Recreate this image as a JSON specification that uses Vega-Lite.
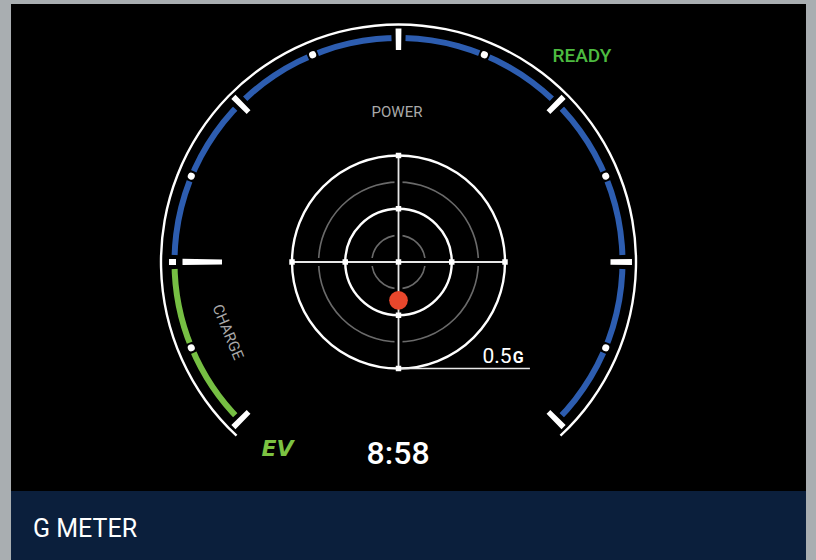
{
  "$schema": "https://vega.github.io/schema/vega-lite/v6.json",
  "width": 816,
  "height": 560,
  "autosize": {"type": "none"},
  "padding": 0,
  "background": "#a9aeb1",
  "config": {"view": {"stroke": null}},
  "datasets": {
    "frame": [{"part": "screen"}],
    "segments": [
      {"mode": "charge", "from": -135, "to": -90},
      {"mode": "power", "from": -90, "to": 135}
    ],
    "ticks": [
      {"angle": -135, "kind": "major"},
      {"angle": -90, "kind": "zero"},
      {"angle": -45, "kind": "major"},
      {"angle": 0, "kind": "major"},
      {"angle": 45, "kind": "major"},
      {"angle": 90, "kind": "major"},
      {"angle": 135, "kind": "major"}
    ],
    "dots": [
      {"angle": -112.5}, {"angle": -67.5}, {"angle": -22.5},
      {"angle": 22.5}, {"angle": 67.5}, {"angle": 112.5}
    ],
    "rings": [
      {"g": 0.125, "kind": "minor"},
      {"g": 0.25, "kind": "major"},
      {"g": 0.375, "kind": "minor"},
      {"g": 0.5, "kind": "major"}
    ],
    "crosshair": [
      {"axis": "lateral", "from": -0.5, "to": 0.5},
      {"axis": "longitudinal", "from": -0.5, "to": 0.5}
    ],
    "grid": [
      {"gx": 0, "gy": 0},
      {"gx": 0.25, "gy": 0}, {"gx": -0.25, "gy": 0},
      {"gx": 0, "gy": 0.25}, {"gx": 0, "gy": -0.25},
      {"gx": 0.5, "gy": 0}, {"gx": -0.5, "gy": 0},
      {"gx": 0, "gy": 0.5}, {"gx": 0, "gy": -0.5}
    ],
    "reading": [{"lateral": 0, "longitudinal": -0.18}],
    "labels": [
      {"label": "POWER", "role": "caption", "gx": -0.007, "gy": 0.704},
      {"label": "CHARGE", "role": "caption-arc", "gx": -0.8005, "gy": -0.3286},
      {"label": "READY", "role": "status", "gx": 0.8615, "gy": 0.9403},
      {"label": "EV", "role": "mode", "gx": -0.568, "gy": -0.911},
      {"label": "8:58", "role": "clock", "gx": -0.002, "gy": -0.948},
      {"label": "G METER", "role": "title", "gx": -1.716, "gy": -1.2897},
      {"label": "0.5", "role": "scale-value", "gx": 0.531, "gy": -0.4756},
      {"label": "G", "role": "scale-unit", "gx": 0.536, "gy": -0.4756}
    ]
  },
  "layer": [
    {
      "data": {"name": "frame"},
      "mark": {"type": "rect", "color": "#000000"},
      "encoding": {
        "x": {"datum": -1.8192, "type": "quantitative", "scale": {"domain": [-1.8709, 1.9601], "nice": false, "zero": false}, "axis": null},
        "x2": {"datum": 1.9131},
        "y": {"datum": 1.2113, "type": "quantitative", "scale": {"domain": [-1.3991, 1.23], "nice": false, "zero": false}, "axis": null},
        "y2": {"datum": -1.0751}
      }
    },
    {
      "data": {"name": "frame"},
      "mark": {"type": "rect", "color": "#0b1f3c"},
      "encoding": {
        "x": {"datum": -1.8192, "type": "quantitative", "axis": null},
        "x2": {"datum": 1.9131},
        "y": {"datum": -1.0751, "type": "quantitative", "axis": null},
        "y2": {"datum": -1.3991}
      }
    },
    {
      "data": {"name": "frame"},
      "mark": {"type": "arc", "color": "#ffffff", "thetaOffset": -0.035, "theta2Offset": 0.035},
      "encoding": {
        "x": {"datum": 0, "type": "quantitative", "axis": null},
        "y": {"datum": 0, "type": "quantitative", "axis": null},
        "theta": {"datum": -135, "type": "quantitative", "scale": {"type": "linear", "domain": [-180, 180], "range": [-3.14159265, 3.14159265], "nice": false, "zero": false}},
        "theta2": {"datum": 135},
        "radius": {"datum": 1.1207, "type": "quantitative", "scale": {"type": "linear", "domain": [0, 1], "range": [0, 213], "nice": false, "zero": true}},
        "radius2": {"datum": 1.1094}
      }
    },
    {
      "data": {"name": "segments"},
      "mark": {"type": "arc"},
      "encoding": {
        "x": {"datum": 0, "type": "quantitative", "axis": null},
        "y": {"datum": 0, "type": "quantitative", "axis": null},
        "theta": {"field": "from", "type": "quantitative", "stack": null},
        "theta2": {"field": "to"},
        "radius": {"datum": 1.0657, "type": "quantitative"},
        "radius2": {"datum": 1.0376},
        "color": {"field": "mode", "type": "nominal", "scale": {"domain": ["charge", "power"], "range": ["#76bf43", "#2d5db0"]}, "legend": null}
      }
    },
    {
      "data": {"name": "ticks"},
      "mark": {"type": "arc", "color": "#000000", "thetaOffset": -0.0314, "theta2Offset": 0.0314},
      "encoding": {
        "x": {"datum": 0, "type": "quantitative", "axis": null},
        "y": {"datum": 0, "type": "quantitative", "axis": null},
        "theta": {"field": "angle", "type": "quantitative", "stack": null},
        "theta2": {"field": "angle"},
        "radius": {"datum": 1.0775, "type": "quantitative"},
        "radius2": {"datum": 1.0258}
      }
    },
    {
      "data": {"name": "dots"},
      "mark": {"type": "arc", "color": "#000000", "thetaOffset": -0.024, "theta2Offset": 0.024},
      "encoding": {
        "x": {"datum": 0, "type": "quantitative", "axis": null},
        "y": {"datum": 0, "type": "quantitative", "axis": null},
        "theta": {"field": "angle", "type": "quantitative", "stack": null},
        "theta2": {"field": "angle"},
        "radius": {"datum": 1.0775, "type": "quantitative"},
        "radius2": {"datum": 1.0258}
      }
    },
    {
      "data": {"name": "ticks"},
      "transform": [{"filter": "datum.kind === 'major'"}],
      "mark": {"type": "arc", "color": "#ffffff", "thetaOffset": -0.0125, "theta2Offset": 0.0125},
      "encoding": {
        "x": {"datum": 0, "type": "quantitative", "axis": null},
        "y": {"datum": 0, "type": "quantitative", "axis": null},
        "theta": {"field": "angle", "type": "quantitative", "stack": null},
        "theta2": {"field": "angle"},
        "radius": {"datum": 1.0962, "type": "quantitative"},
        "radius2": {"datum": 0.9953}
      }
    },
    {
      "data": {"name": "ticks"},
      "transform": [{"filter": "datum.kind === 'zero'"}],
      "mark": {"type": "arc", "color": "#ffffff", "thetaOffset": -0.0135, "theta2Offset": 0.0135},
      "encoding": {
        "x": {"datum": 0, "type": "quantitative", "axis": null},
        "y": {"datum": 0, "type": "quantitative", "axis": null},
        "theta": {"field": "angle", "type": "quantitative", "stack": null},
        "theta2": {"field": "angle"},
        "radius": {"datum": 1.0775, "type": "quantitative"},
        "radius2": {"datum": 1.0446}
      }
    },
    {
      "data": {"name": "ticks"},
      "transform": [{"filter": "datum.kind === 'zero'"}],
      "mark": {"type": "arc", "color": "#ffffff", "thetaOffset": -0.0145, "theta2Offset": 0.0145},
      "encoding": {
        "x": {"datum": 0, "type": "quantitative", "axis": null},
        "y": {"datum": 0, "type": "quantitative", "axis": null},
        "theta": {"field": "angle", "type": "quantitative", "stack": null},
        "theta2": {"field": "angle"},
        "radius": {"datum": 1.0141, "type": "quantitative"},
        "radius2": {"datum": 0.8286}
      }
    },
    {
      "data": {"name": "dots"},
      "mark": {"type": "arc", "color": "#ffffff", "cornerRadius": 3.5, "thetaOffset": -0.0158, "theta2Offset": 0.0158},
      "encoding": {
        "x": {"datum": 0, "type": "quantitative", "axis": null},
        "y": {"datum": 0, "type": "quantitative", "axis": null},
        "theta": {"field": "angle", "type": "quantitative", "stack": null},
        "theta2": {"field": "angle"},
        "radius": {"datum": 1.0695, "type": "quantitative"},
        "radius2": {"datum": 1.0366}
      }
    },
    {
      "data": {"name": "rings"},
      "transform": [{"filter": "datum.kind === 'minor'"}],
      "mark": {"type": "arc", "filled": false, "stroke": "#6a6a6a", "strokeWidth": 1.6, "theta": 0, "theta2": 6.2832},
      "encoding": {
        "x": {"datum": 0, "type": "quantitative", "axis": null},
        "y": {"datum": 0, "type": "quantitative", "axis": null},
        "radius": {"field": "g", "type": "quantitative", "stack": null}
      }
    },
    {
      "data": {"name": "crosshair"},
      "transform": [{"filter": "datum.axis === 'lateral'"}],
      "mark": {"type": "rule", "color": "#000000", "strokeWidth": 8},
      "encoding": {
        "x": {"field": "from", "type": "quantitative", "axis": null},
        "x2": {"field": "to"},
        "y": {"datum": 0, "type": "quantitative", "axis": null}
      }
    },
    {
      "data": {"name": "crosshair"},
      "transform": [{"filter": "datum.axis === 'longitudinal'"}],
      "mark": {"type": "rule", "color": "#000000", "strokeWidth": 8},
      "encoding": {
        "y": {"field": "from", "type": "quantitative", "axis": null},
        "y2": {"field": "to"},
        "x": {"datum": 0, "type": "quantitative", "axis": null}
      }
    },
    {
      "data": {"name": "rings"},
      "transform": [{"filter": "datum.kind === 'major'"}],
      "mark": {"type": "arc", "filled": false, "stroke": "#ffffff", "strokeWidth": 2.4, "theta": 0, "theta2": 6.2832},
      "encoding": {
        "x": {"datum": 0, "type": "quantitative", "axis": null},
        "y": {"datum": 0, "type": "quantitative", "axis": null},
        "radius": {"field": "g", "type": "quantitative", "stack": null}
      }
    },
    {
      "data": {"name": "crosshair"},
      "transform": [{"filter": "datum.axis === 'lateral'"}],
      "mark": {"type": "rule", "color": "#e8e8e8", "strokeWidth": 1.8},
      "encoding": {
        "x": {"field": "from", "type": "quantitative", "axis": null},
        "x2": {"field": "to"},
        "y": {"datum": 0, "type": "quantitative", "axis": null}
      }
    },
    {
      "data": {"name": "crosshair"},
      "transform": [{"filter": "datum.axis === 'longitudinal'"}],
      "mark": {"type": "rule", "color": "#e8e8e8", "strokeWidth": 1.8},
      "encoding": {
        "y": {"field": "from", "type": "quantitative", "axis": null},
        "y2": {"field": "to"},
        "x": {"datum": 0, "type": "quantitative", "axis": null}
      }
    },
    {
      "data": {"name": "labels"},
      "transform": [{"filter": "datum.role === 'scale-value'"}],
      "mark": {"type": "rule", "color": "#e8e8e8", "strokeWidth": 1.5},
      "encoding": {
        "x": {"datum": 0, "type": "quantitative", "axis": null},
        "x2": {"datum": 0.617},
        "y": {"datum": -0.5, "type": "quantitative", "axis": null}
      }
    },
    {
      "data": {"name": "grid"},
      "mark": {"type": "point", "shape": "square", "filled": true, "color": "#ffffff", "opacity": 1, "size": 30},
      "encoding": {
        "x": {"field": "gx", "type": "quantitative", "axis": null},
        "y": {"field": "gy", "type": "quantitative", "axis": null}
      }
    },
    {
      "data": {"name": "reading"},
      "mark": {"type": "point", "shape": "circle", "filled": true, "color": "#e9472c", "opacity": 1, "size": 350},
      "encoding": {
        "x": {"field": "lateral", "type": "quantitative", "axis": null},
        "y": {"field": "longitudinal", "type": "quantitative", "axis": null}
      }
    },
    {
      "data": {"name": "labels"},
      "transform": [{"filter": "datum.role === 'caption'"}],
      "mark": {"type": "text", "font": "Roboto", "fontSize": 15, "color": "#a9a9a9", "align": "center", "baseline": "middle"},
      "encoding": {
        "x": {"field": "gx", "type": "quantitative", "axis": null},
        "y": {"field": "gy", "type": "quantitative", "axis": null},
        "text": {"field": "label"}
      }
    },
    {
      "data": {"name": "labels"},
      "transform": [{"filter": "datum.role === 'caption-arc'"}],
      "mark": {"type": "text", "font": "Roboto", "fontSize": 15, "color": "#a9a9a9", "align": "center", "baseline": "middle", "angle": 67.5},
      "encoding": {
        "x": {"field": "gx", "type": "quantitative", "axis": null},
        "y": {"field": "gy", "type": "quantitative", "axis": null},
        "text": {"field": "label"}
      }
    },
    {
      "data": {"name": "labels"},
      "transform": [{"filter": "datum.role === 'status'"}],
      "mark": {"type": "text", "font": "Roboto", "fontSize": 19, "fontWeight": 500, "color": "#4dbb40", "align": "center", "baseline": "alphabetic"},
      "encoding": {
        "x": {"field": "gx", "type": "quantitative", "axis": null},
        "y": {"field": "gy", "type": "quantitative", "axis": null},
        "text": {"field": "label"}
      }
    },
    {
      "data": {"name": "labels"},
      "transform": [{"filter": "datum.role === 'mode'"}],
      "mark": {"type": "text", "font": "DejaVu Sans", "fontSize": 22, "fontWeight": "bold", "fontStyle": "italic", "color": "#7cc242", "align": "center", "baseline": "alphabetic"},
      "encoding": {
        "x": {"field": "gx", "type": "quantitative", "axis": null},
        "y": {"field": "gy", "type": "quantitative", "axis": null},
        "text": {"field": "label"}
      }
    },
    {
      "data": {"name": "labels"},
      "transform": [{"filter": "datum.role === 'clock'"}],
      "mark": {"type": "text", "font": "Roboto", "fontSize": 32, "fontWeight": 500, "color": "#ffffff", "align": "center", "baseline": "alphabetic"},
      "encoding": {
        "x": {"field": "gx", "type": "quantitative", "axis": null},
        "y": {"field": "gy", "type": "quantitative", "axis": null},
        "text": {"field": "label"}
      }
    },
    {
      "data": {"name": "labels"},
      "transform": [{"filter": "datum.role === 'title'"}],
      "mark": {"type": "text", "font": "Roboto", "fontSize": 25, "color": "#ffffff", "align": "left", "baseline": "alphabetic"},
      "encoding": {
        "x": {"field": "gx", "type": "quantitative", "axis": null},
        "y": {"field": "gy", "type": "quantitative", "axis": null},
        "text": {"field": "label"}
      }
    },
    {
      "data": {"name": "labels"},
      "transform": [{"filter": "datum.role === 'scale-value'"}],
      "mark": {"type": "text", "font": "Roboto", "fontSize": 21, "color": "#ffffff", "align": "right", "baseline": "alphabetic"},
      "encoding": {
        "x": {"field": "gx", "type": "quantitative", "axis": null},
        "y": {"field": "gy", "type": "quantitative", "axis": null},
        "text": {"field": "label"}
      }
    },
    {
      "data": {"name": "labels"},
      "transform": [{"filter": "datum.role === 'scale-unit'"}],
      "mark": {"type": "text", "font": "Roboto", "fontSize": 16, "fontWeight": "bold", "color": "#ffffff", "align": "left", "baseline": "alphabetic"},
      "encoding": {
        "x": {"field": "gx", "type": "quantitative", "axis": null},
        "y": {"field": "gy", "type": "quantitative", "axis": null},
        "text": {"field": "label"}
      }
    }
  ]
}
